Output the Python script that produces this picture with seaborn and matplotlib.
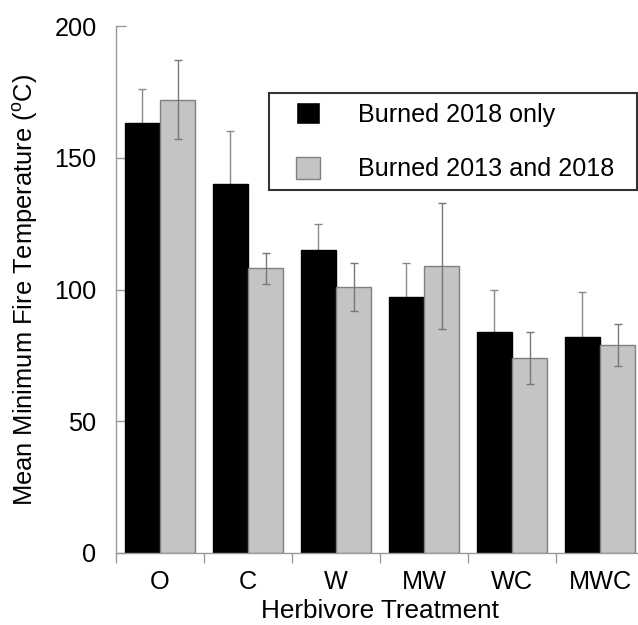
import matplotlib
matplotlib.use("Agg")
import matplotlib.pyplot as plt
import seaborn as sns
import pandas as pd
from matplotlib.patches import Rectangle

treatments = ["O", "C", "W", "MW", "WC", "MWC"]
series_names = ["Burned 2018 only", "Burned 2013 and 2018"]
burned_2018_only = [163, 140, 115, 97, 84, 82]
burned_2018_only_err = [13, 20, 10, 13, 16, 17]
burned_2013_2018 = [172, 108, 101, 109, 74, 79]
burned_2013_2018_err = [15, 6, 9, 24, 10, 8]
y_ticks = [0, 50, 100, 150, 200]

df = pd.DataFrame({
    "treatment": treatments * 2,
    "temp": burned_2018_only + burned_2013_2018,
    "group": [series_names[0]] * len(treatments) + [series_names[1]] * len(treatments),
})

sns.set_style("white")
plt.rcParams["font.family"] = ["Liberation Sans", "DejaVu Sans"]
plt.rcParams["mathtext.fontset"] = "custom"
plt.rcParams["mathtext.rm"] = "Liberation Sans"
plt.rcParams["text.color"] = "black"
plt.rcParams["axes.labelcolor"] = "black"
plt.rcParams["xtick.color"] = "black"
plt.rcParams["ytick.color"] = "black"

fig = plt.figure(figsize=(6.38, 6.25), dpi=100)
W, H = 638, 625
ax = fig.add_axes([116 / W, (H - 553) / H, (644 - 116) / W, (553 - 26) / H])

black = "#000000"
gray = "#c4c4c4"
sns.barplot(data=df, x="treatment", y="temp", hue="group", order=treatments,
            hue_order=series_names, palette=[black, gray], errorbar=None,
            width=0.8, saturation=1, ax=ax, legend=True)

n = len(treatments)
bars = ax.patches[:2 * n]
for i, b in enumerate(bars):
    b.set_edgecolor("#000000" if i < n else "#808080")
    b.set_linewidth(1.0)
    b.set_zorder(2)

# error bars; the black bars hide the lower half of their own whiskers
err_color = "#8a8a8a"
xs_black = [b.get_x() + b.get_width() / 2 for b in bars[:n]]
xs_gray = [b.get_x() + b.get_width() / 2 for b in bars[n:]]
ax.errorbar(xs_black, burned_2018_only, yerr=burned_2018_only_err,
            fmt="none", ecolor=err_color, elinewidth=1.0, capsize=3, capthick=1.0, zorder=1.5)
ax.errorbar(xs_gray, burned_2013_2018, yerr=burned_2013_2018_err,
            fmt="none", ecolor="#777777", elinewidth=1.0, capsize=3, capthick=1.0, zorder=3)

ax.set_ylim(0, 200)
ax.set_xlim(-0.5, n - 0.5)
ax.set_yticks(y_ticks)
ax.set_yticklabels([str(t) for t in y_ticks])
ax.set_xticks(range(n))
ax.set_xticklabels(treatments)
ax.set_xticks([i - 0.5 for i in range(n + 1)], minor=True)

for s in ["top", "right"]:
    ax.spines[s].set_visible(False)
for s in ["left", "bottom"]:
    ax.spines[s].set_color("#9a9a9a")
    ax.spines[s].set_linewidth(1.0)

ax.tick_params(axis="y", which="major", direction="in", length=7, width=1.0,
               color="#9a9a9a", labelcolor="black", labelsize=18.2, pad=14, left=True)
ax.tick_params(axis="x", which="major", length=0, labelcolor="black", labelsize=18.2, pad=12)
ax.tick_params(axis="x", which="minor", direction="out", length=7, width=1.0,
               color="#9a9a9a", bottom=True)

ax.set_xlabel("Herbivore Treatment", fontsize=18.8, labelpad=4, color="black")
ax.set_ylabel(r"Mean Minimum Fire Temperature ($^{\mathrm{o}}$C)", fontsize=18.4,
              labelpad=10, color="black")

handles, labels = ax.get_legend_handles_labels()
leg = ax.legend(handles, labels, loc="upper left",
                bbox_to_anchor=(296 / W, 1 - 102 / H), bbox_transform=fig.transFigure,
                frameon=False, fontsize=18.1, borderpad=0, borderaxespad=0,
                handlelength=0.96, handleheight=0.96, handletextpad=1.5,
                labelspacing=1.2)
for t in leg.get_texts():
    t.set_color("black")
for h in leg.legend_handles:
    h.set_linewidth(1.0)
leg.legend_handles[1].set_edgecolor("#808080")

frame = Rectangle((269 / W, 1 - 190 / H), (637 - 269) / W, (190 - 93) / H,
                  transform=fig.transFigure, fill=False, edgecolor="#333333",
                  linewidth=1.5, zorder=5)
fig.add_artist(frame)

fig.savefig("out.png", dpi=100)
